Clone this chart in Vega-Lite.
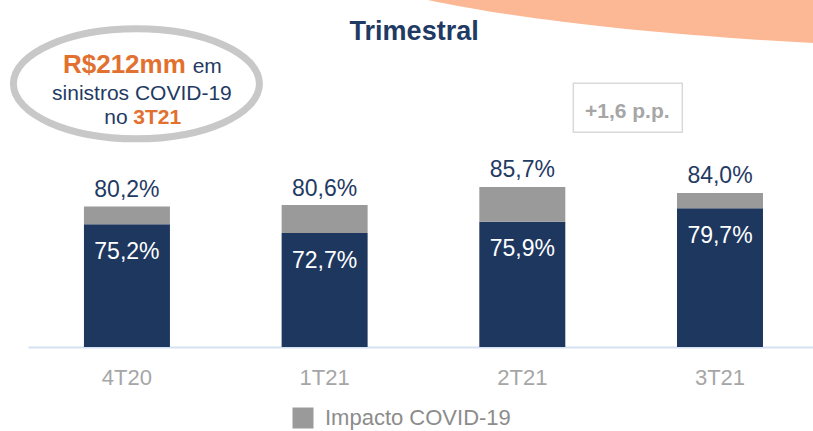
{
  "$schema": "https://vega.github.io/schema/vega-lite/v6.json",
  "width": 785,
  "height": 347,
  "autosize": {"type": "none"},
  "padding": {"left": 28, "top": 0, "right": 0, "bottom": 84},
  "background": "white",
  "config": {
    "view": {"stroke": null},
    "font": "Liberation Sans"
  },
  "data": {"values": [
    {"trimestre": "4T20", "base": 75.2, "total": 80.2, "rotulo_base": "75,2%", "rotulo_total": "80,2%"},
    {"trimestre": "1T21", "base": 72.7, "total": 80.6, "rotulo_base": "72,7%", "rotulo_total": "80,6%"},
    {"trimestre": "2T21", "base": 75.9, "total": 85.7, "rotulo_base": "75,9%", "rotulo_total": "85,7%"},
    {"trimestre": "3T21", "base": 79.7, "total": 84.0, "rotulo_base": "79,7%", "rotulo_total": "84,0%"}
  ]},
  "layer": [
    {
      "mark": {"type": "bar", "clip": true},
      "encoding": {
        "x": {
          "field": "trimestre", "type": "nominal", "sort": null,
          "scale": {"domain": ["4T20", "1T21", "2T21", "3T21"], "paddingInner": 0.565, "paddingOuter": 0.268, "align": 0.528},
          "axis": {"title": null, "ticks": false, "domainColor": "#d6e1f2", "domainWidth": 2, "labelAngle": 0,
                   "labelFontSize": 22, "labelColor": "#a6a6a6", "labelPadding": 20, "labelFont": "Liberation Sans"}
        },
        "y": {"field": "base", "type": "quantitative", "scale": {"domain": [40.6, 138.35], "zero": false, "nice": false}, "axis": null},
        "color": {"datum": "Sinistralidade", "type": "nominal",
                  "scale": {"domain": ["Sinistralidade", "Impacto COVID-19"], "range": ["#1d375f", "#9a9a9a"]},
                  "legend": {"title": null, "orient": "none", "legendX": 264, "legendY": 407, "values": ["Impacto COVID-19"],
                             "symbolType": "square", "symbolSize": 441, "symbolStrokeWidth": 0, "labelFontSize": 22,
                             "labelColor": "#8c8c8c", "labelFont": "Liberation Sans", "padding": 0, "labelOffset": 11, "labelLimit": 400}}
      }
    },
    {
      "mark": {"type": "bar", "clip": true},
      "encoding": {
        "x": {"field": "trimestre", "type": "nominal", "sort": null},
        "y": {"field": "total", "type": "quantitative"},
        "y2": {"field": "base"},
        "color": {"datum": "Impacto COVID-19", "type": "nominal"}
      }
    },
    {
      "mark": {"type": "text", "baseline": "alphabetic", "dy": -9.5, "fontSize": 23, "color": "#1f3a63"},
      "encoding": {
        "x": {"field": "trimestre", "type": "nominal", "sort": null},
        "y": {"field": "total", "type": "quantitative"},
        "text": {"field": "rotulo_total"}
      }
    },
    {
      "mark": {"type": "text", "baseline": "alphabetic", "dy": 34.5, "fontSize": 23, "color": "#ffffff"},
      "encoding": {
        "x": {"field": "trimestre", "type": "nominal", "sort": null},
        "y": {"field": "base", "type": "quantitative"},
        "text": {"field": "rotulo_base"}
      }
    },
    {
      "data": {"values": [{"forma": "decoracao"}]},
      "mark": {"type": "point", "shape": "M-0.525,0A1,0.1375,0,1,0,1.475,0A1,0.1375,0,1,0,-0.525,0Z", "size": 2560000,
               "filled": true, "color": "#fcb894", "opacity": 1, "strokeWidth": 0},
      "encoding": {"x": {"datum": "3T21", "type": "nominal"}, "y": {"datum": 155.16, "type": "quantitative"}}
    },
    {
      "data": {"values": [{"forma": "elipse"}]},
      "mark": {"type": "point", "shape": "M-0.923,0A1,0.447,0,1,0,1.077,0A1,0.447,0,1,0,-0.923,0Z", "size": 60516,
               "filled": false, "color": "#c8c8c8", "opacity": 1, "strokeWidth": 7},
      "encoding": {"x": {"datum": "4T20", "type": "nominal"}, "y": {"datum": 114.74, "type": "quantitative"}}
    },
    {
      "data": {"values": [{"forma": "caixa"}]},
      "mark": {"type": "point", "shape": "M0.936,-0.45L2.936,-0.45L2.936,0.45L0.936,0.45Z", "size": 11881,
               "filled": false, "color": "#d9d9d9", "opacity": 1, "strokeWidth": 1.5},
      "encoding": {"x": {"datum": "2T21", "type": "nominal"}, "y": {"datum": 107.98, "type": "quantitative"}}
    },
    {
      "data": {"values": [{"texto": "+1,6 p.p."}]},
      "mark": {"type": "text", "align": "center", "baseline": "alphabetic", "dx": 105, "fontSize": 21, "fontWeight": "bold", "color": "#a6a6a6"},
      "encoding": {"x": {"datum": "2T21", "type": "nominal"}, "y": {"datum": 105.22, "type": "quantitative"}, "text": {"field": "texto"}}
    },
    {
      "data": {"values": [{"texto": "Trimestral"}]},
      "mark": {"type": "text", "align": "center", "baseline": "alphabetic", "dx": 89.5, "fontSize": 27, "fontWeight": "bold", "color": "#1f3a63"},
      "encoding": {"x": {"datum": "1T21", "type": "nominal"}, "y": {"datum": 127.0, "type": "quantitative"}, "text": {"field": "texto"}}
    },
    {
      "data": {"values": [{"texto": "R$212mm"}]},
      "mark": {"type": "text", "align": "left", "baseline": "alphabetic", "dx": -64, "fontSize": 26, "fontWeight": "bold", "color": "#e2702f"},
      "encoding": {"x": {"datum": "4T20", "type": "nominal"}, "y": {"datum": 117.78, "type": "quantitative"}, "text": {"field": "texto"}}
    },
    {
      "data": {"values": [{"texto": "em"}]},
      "mark": {"type": "text", "align": "left", "baseline": "alphabetic", "dx": 65.7, "fontSize": 21, "color": "#1f3a63"},
      "encoding": {"x": {"datum": "4T20", "type": "nominal"}, "y": {"datum": 117.78, "type": "quantitative"}, "text": {"field": "texto"}}
    },
    {
      "data": {"values": [{"texto": "sinistros COVID-19"}]},
      "mark": {"type": "text", "align": "center", "baseline": "alphabetic", "dx": 15, "fontSize": 21, "color": "#1f3a63"},
      "encoding": {"x": {"datum": "4T20", "type": "nominal"}, "y": {"datum": 110.09, "type": "quantitative"}, "text": {"field": "texto"}}
    },
    {
      "data": {"values": [{"texto": "no"}]},
      "mark": {"type": "text", "align": "left", "baseline": "alphabetic", "dx": -22.7, "fontSize": 21, "color": "#1f3a63"},
      "encoding": {"x": {"datum": "4T20", "type": "nominal"}, "y": {"datum": 103.53, "type": "quantitative"}, "text": {"field": "texto"}}
    },
    {
      "data": {"values": [{"texto": "3T21"}]},
      "mark": {"type": "text", "align": "left", "baseline": "alphabetic", "dx": 6.3, "fontSize": 21, "fontWeight": "bold", "color": "#e2702f"},
      "encoding": {"x": {"datum": "4T20", "type": "nominal"}, "y": {"datum": 103.53, "type": "quantitative"}, "text": {"field": "texto"}}
    }
  ]
}
